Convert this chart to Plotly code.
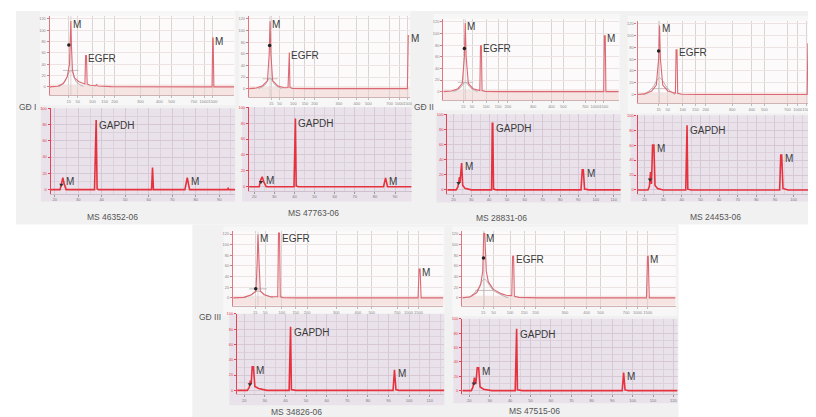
import plotly.graph_objects as go

W, H = 816, 417

# ---------------- data ----------------
SAMPLES = ["MS 46352-06", "MS 47763-06", "MS 28831-06", "MS 24453-06", "MS 34826-06", "MS 47515-06"]
STAGES = ["GĐ I", "GĐ II", "GĐ III"]

# ladder (bp labels) at migration time (s) for the EGFR electropherograms
LADDER_BP = ["15", "50", "100", "150", "200", "300", "400", "500", "700", "1000", "1500"]
LADDER_S = [43, 47, 53.5, 59, 63.5, 75, 83.5, 89, 99, 103.5, 107.5]

GAPDH_TICKS = [20, 30, 40, 50, 60, 70, 80, 90, 100, 110, 120]

# EGFR traces (time s, FU)
EGFR_X_1 = [34.5, 38.0, 40.5, 42.3, 43.3, 43.6, 43.9, 44.2, 44.6, 45.5, 47.5, 50.2, 50.5, 50.9, 51.2, 52.5, 55.0, 55.4, 56.0, 62.0, 75.0, 107.1, 107.4, 107.6, 107.9, 117.0]
EGFR_Y_1 = [0, 1, 6, 18, 40, 75, 116, 70, 30, 16, 9, 5, 55, 55, 5, 3, 2, 4, 1.5, 0.5, 0, 0, 86, 86, 0, 0]
EGFR_X_2 = [32.6, 36.0, 39.0, 41.3, 42.1, 42.5, 42.9, 43.7, 46.0, 49.0, 51.0, 51.3, 51.6, 51.9, 53.0, 60.0, 107.4, 107.8, 108.4]
EGFR_Y_2 = [0, 1, 5, 14, 60, 116, 60, 14, 5, 1.5, 2, 62, 62, 2, 0.5, 0, 0, 91, 91]
EGFR_X_3 = [33.85, 37.5, 40.5, 42.5, 43.5, 43.9, 44.3, 45.3, 47.5, 50.6, 50.9, 51.3, 51.6, 53.0, 60.0, 107.5, 107.8, 108.2, 108.5, 114.4]
EGFR_Y_3 = [0, 1, 5, 14, 60, 118, 60, 14, 5, 2, 79, 79, 2, 0.5, 0, 0, 96, 96, 0, 0]
EGFR_X_4 = [33.9, 37.0, 40.0, 42.0, 43.0, 43.4, 43.8, 44.8, 47.0, 50.3, 50.6, 51.0, 51.3, 53.0, 60.0, 107.6, 107.9, 108.2, 108.5, 113.6]
EGFR_Y_4 = [0, 1, 6, 16, 60, 117, 60, 16, 6, 2, 76, 76, 2, 0.5, 0, 0, 86, 86, 0, 0]
EGFR_X_5 = [34.3, 38.5, 41.5, 43.3, 43.8, 44.1, 44.5, 45.0, 46.5, 49.0, 51.9, 52.2, 52.6, 52.9, 54.0, 60.0, 107.3, 107.7, 108.1, 108.5, 117.3]
EGFR_Y_5 = [0, 1, 6, 13, 70, 119, 70, 13, 6, 2, 2, 122, 122, 2, 0.5, 0, 0, 54, 54, 0, 0]
EGFR_X_6 = [34.8, 38.0, 40.5, 42.0, 42.8, 43.2, 43.6, 44.2, 45.0, 47.0, 50.0, 52.0, 54.2, 54.5, 54.9, 55.2, 57.0, 65.0, 107.0, 107.4, 107.7, 108.1, 118.4]
EGFR_Y_6 = [0, 2, 10, 25, 50, 121, 121, 50, 30, 16, 8, 5, 4, 78, 78, 3, 1, 0, 0, 78, 78, 0, 0]

# grey overlay hump under the lower marker
HUMP_X = [[38.5, 41.0, 43.9, 46.5, 49.5], [37.0, 40.0, 42.5, 45.0, 48.0], [38.5, 41.5, 43.9, 46.5, 49.5],
          [36.5, 40.0, 43.4, 47.0, 50.0], [38.5, 41.5, 44.1, 47.0, 50.0], [37.2, 40.5, 43.4, 47.0, 52.8]]
HUMP_Y = [[0, 8, 29, 8, 1], [0, 6, 18, 6, 0], [0, 6, 16, 6, 0],
          [0, 10, 28, 10, 0], [0, 6, 13, 6, 0], [0, 14, 35, 14, 0]]
CROSS_Y = [29, 17, 16, 10, 17, 14]
DOT_X = [43.0, 42.3, 43.5, 43.0, 43.2, 43.1]
DOT_Y = [74, 74, 74, 74, 17, 75]

# EGFR label anchors: lower M, EGFR, upper M (time s, FU)
EGFR_LAB_X = [(43.9, 50.9, 107.5), (42.5, 51.6, 108.0), (43.9, 51.3, 108.0), (43.4, 51.0, 107.7), (44.1, 52.6, 107.9), (43.4, 54.9, 107.5)]
EGFR_LAB_Y = [(116, 55, 86), (116, 62, 91), (118, 79, 96), (117, 76, 86), (119, 122, 54), (121, 78, 78)]

# GAPDH traces (time s, FU)
GAPDH_X_1 = [18.3, 22.2, 22.9, 23.4, 24.0, 24.8, 36.9, 37.3, 37.6, 38.0, 38.6, 61.2, 61.6, 62.0, 75.4, 76.4, 77.4, 93.5, 93.8, 94.1, 96.8]
GAPDH_Y_1 = [0, 0, 8, 14.6, 7, 0, 0, 85.5, 85.5, 1, 0, 0, 27, 0, 0, 14.6, 0, 0, 1.5, 0, 0]
GAPDH_X_2 = [17.5, 22.5, 23.2, 24.0, 24.8, 26.0, 39.8, 40.2, 40.5, 40.9, 42, 84.3, 85.3, 86.3, 98.2]
GAPDH_Y_2 = [0, 0, 8, 12.5, 6, 0, 0, 86, 86, 1, 0, 0, 11, 0, 0]
GAPDH_X_3 = [16.6, 21.5, 22.5, 23.0, 23.4, 23.7, 24.2, 24.6, 25.2, 26.5, 30, 41.4, 41.8, 42.1, 42.5, 44, 91.6, 92.3, 92.9, 93.6, 96, 113.9]
GAPDH_Y_3 = [0, 0, 4, 12, 17, 10, 35.5, 35.5, 6, 2, 0, 0, 88, 88, 1, 0, 0, 26.5, 26.5, 1, 0, 0]
GAPDH_X_4 = [16.3, 21.8, 22.6, 23.2, 23.7, 24.3, 25.0, 25.6, 27, 30, 42.1, 42.5, 42.8, 43.2, 45, 92.5, 93.1, 93.6, 94.3, 97, 114.7]
GAPDH_Y_4 = [0, 0, 5, 24, 8, 60, 60, 6, 2, 0, 0, 86.6, 86.6, 1, 0, 0, 46.8, 46.8, 2, 0, 0]
GAPDH_X_5 = [16.6, 21.5, 22.5, 23.0, 23.4, 23.9, 24.5, 25.2, 27, 31, 41.8, 42.2, 42.5, 42.9, 45, 92.2, 92.9, 93.6, 95, 117.1]
GAPDH_Y_5 = [0, 0, 4, 12.8, 8, 30.7, 30.7, 5, 2.5, 0, 0, 83, 83, 1, 0, 0, 26.9, 1, 0, 0]
GAPDH_X_6 = [16.6, 21.0, 21.8, 22.5, 23.2, 23.9, 24.6, 25.3, 27, 31, 42.5, 42.9, 43.2, 43.6, 46, 94.9, 95.6, 96.3, 98, 122]
GAPDH_Y_6 = [0, 0, 5, 18, 9, 31.8, 31.8, 5, 2, 0, 0, 86, 86, 1, 0, 0, 25, 1, 0, 0]

# GAPDH label anchors: lower M, GAPDH, upper M
GAPDH_LAB_X = [(23.6, 37.6, 76.6), (24.2, 40.5, 85.5), (24.6, 42.1, 93.1), (25.0, 42.8, 93.6), (24.5, 42.5, 93.0), (24.6, 43.2, 95.8)]
GAPDH_LAB_Y = [(14.6, 85.5, 14.6), (12.5, 86, 11), (35.5, 88, 26.5), (60, 86.6, 46.8), (30.7, 83, 26.9), (31.8, 86, 25)]
SMALL_X = [22.8, 23.4, 22.9, 22.9, 22.8, 22.3]
SMALL_Y = [6, 6, 9, 14, 8, 10]

EGFR_X = [EGFR_X_1, EGFR_X_2, EGFR_X_3, EGFR_X_4, EGFR_X_5, EGFR_X_6]
EGFR_Y = [EGFR_Y_1, EGFR_Y_2, EGFR_Y_3, EGFR_Y_4, EGFR_Y_5, EGFR_Y_6]
GAPDH_X = [GAPDH_X_1, GAPDH_X_2, GAPDH_X_3, GAPDH_X_4, GAPDH_X_5, GAPDH_X_6]
GAPDH_Y = [GAPDH_Y_1, GAPDH_Y_2, GAPDH_Y_3, GAPDH_Y_4, GAPDH_Y_5, GAPDH_Y_6]

# ---------------- layout (pixels) ----------------
EGFR_BOX = [(42, 227, 5, 85), (242, 403, 5, 87), (437, 613, 8, 90), (632, 816, 10, 93), (226, 437, 222, 297), (456, 670, 222, 297)]
EGFR_RANGE = [(34.5, 117.0), (32.6, 108.4), (33.85, 114.4), (33.9, 113.6), (34.3, 117.3), (34.8, 118.4)]
GAPDH_BOX = [(43, 228, 98, 184), (242, 405, 97, 181), (441, 615, 104, 184), (632, 816, 105, 184), (230, 438, 305, 386), (456, 672, 310, 386)]
GAPDH_OUTER = [(33, 228, 98, 192), (235, 405, 97, 192), (430, 615, 104, 193), (625, 816, 105, 192), (222, 438, 305, 397), (447, 672, 310, 395)]
GAPDH_RANGE = [(18.3, 96.8), (17.5, 98.2), (16.6, 113.9), (16.3, 114.7), (16.6, 117.1), (16.6, 122.0)]
SAMPLE_POS = [(105, 207), (307, 203), (495, 208), (710, 207), (290, 404), (528, 403)]
STAGE_POS = [(20, 97), (418, 97), (203, 308)]

FONT = "Liberation Sans, Arial"
RED_E = "#dc6874"
RED_G = "#e6323f"
TXT = "#3a3a3a"

fig = go.Figure()
layout = dict(width=W, height=H, margin=dict(l=0, r=0, t=0, b=0), showlegend=False,
              paper_bgcolor="white", plot_bgcolor="rgba(0,0,0,0)", font=dict(family=FONT, color=TXT))
shapes = [
    dict(type="rect", xref="paper", yref="paper", x0=8 / W, x1=1, y0=1 - 215 / H, y1=1,
         fillcolor="#f1f1f1", line_width=0, layer="below"),
    dict(type="rect", xref="paper", yref="paper", x0=185 / W, x1=673 / W, y0=0, y1=1 - 215 / H,
         fillcolor="#f1f1f1", line_width=0, layer="below"),
]
annotations = []


def px2x(p):
    return p / W


def px2y(p):
    return 1 - p / H


def ax(letter, n):
    return letter if n == 1 else f"{letter}{n}"


for i in range(6):
    ne, ng = 2 * i + 1, 2 * i + 2
    xe, ye = ax("x", ne), ax("y", ne)
    xg, yg = ax("x", ng), ax("y", ng)
    l, r, t, b = EGFR_BOX[i]
    # EGFR outer box and plot background
    shapes.append(dict(type="rect", xref="paper", yref="paper", x0=px2x(l - 10), x1=px2x(min(r + 1, W)),
                       y0=px2y(b + 10), y1=px2y(max(t - 5, 0)), fillcolor="#f8f7f7", line_width=0, layer="below"))
    shapes.append(dict(type="rect", xref="paper", yref="paper", x0=px2x(l), x1=px2x(r), y0=px2y(b), y1=px2y(t),
                       fillcolor="#fcfafa", line_width=0, layer="below"))
    shapes.append(dict(type="rect", xref=f"{xe} domain", yref=ye, x0=0, x1=1, y0=-15, y1=4,
                       fillcolor="#f5e4e2", line_width=0, layer="below"))
    layout[f"xaxis{ne}"] = dict(domain=[px2x(l), px2x(r)], range=list(EGFR_RANGE[i]), anchor=ye,
                                tickvals=LADDER_S, ticktext=LADDER_BP, tickfont=dict(size=4, color="#888"),
                                showline=True, linecolor="#cfb2b2", ticks="outside", ticklen=2, tickcolor="#bbb",
                                showgrid=True, gridcolor="#dcd3d3", gridwidth=0.6, zeroline=False, tickangle=0)
    layout[f"yaxis{ne}"] = dict(domain=[px2y(b), px2y(t)], range=[-15, 125], anchor=xe, tick0=0, dtick=20,
                                tickfont=dict(size=4, color="#888"), showline=True, linecolor="#e07884", linewidth=1.4,
                                ticks="outside", ticklen=2, tickcolor="#e07884",
                                showgrid=True, gridcolor="#ece3e3", gridwidth=0.6, zeroline=False)
    # grey hump + crosshair
    fig.add_trace(go.Scatter(x=HUMP_X[i], y=HUMP_Y[i], xaxis=xe, yaxis=ye, mode="lines",
                             line=dict(color="#aaa2a2", width=0.8, shape="spline"), hoverinfo="skip"))
    m = HUMP_X[i][2]
    fig.add_trace(go.Scatter(x=[m - 3.5, m + 3.5], y=[CROSS_Y[i], CROSS_Y[i]], xaxis=xe, yaxis=ye, mode="lines",
                             line=dict(color="#b0a8a8", width=0.7), hoverinfo="skip"))
    fig.add_trace(go.Scatter(x=[m, m], y=[-15, 125], xaxis=xe, yaxis=ye, mode="lines",
                             line=dict(color="#c8bcbc", width=0.6), hoverinfo="skip"))
    fig.add_trace(go.Scatter(x=EGFR_X[i], y=EGFR_Y[i], xaxis=xe, yaxis=ye, mode="lines",
                             line=dict(color=RED_E, width=1.1), hoverinfo="skip"))
    fig.add_trace(go.Scatter(x=[DOT_X[i]], y=[DOT_Y[i]], xaxis=xe, yaxis=ye, mode="markers",
                             marker=dict(color="#222", size=3.5), hoverinfo="skip"))
    lx, ly = EGFR_LAB_X[i], EGFR_LAB_Y[i]
    for txt, axx, ayy in (("M", lx[0], ly[0]), ("EGFR", lx[1], ly[1]), ("M", lx[2], ly[2])):
        annotations.append(dict(x=axx, y=min(ayy, 118), xref=xe, yref=ye, text=txt, showarrow=False,
                                xanchor="left", yanchor="middle", xshift=0, yshift=-3,
                                font=dict(size=10, color=TXT, family=FONT)))

    # GAPDH panel
    l, r, t, b = GAPDH_BOX[i]
    ol, orr, ot, ob = GAPDH_OUTER[i]
    shapes.append(dict(type="rect", xref="paper", yref="paper", x0=px2x(ol), x1=px2x(orr), y0=px2y(ob), y1=px2y(ot),
                       fillcolor="#e9e2ea", line_width=0, layer="below"))
    layout[f"xaxis{ng}"] = dict(domain=[px2x(l), px2x(r)], range=list(GAPDH_RANGE[i]), anchor=yg,
                                tickvals=GAPDH_TICKS, tickfont=dict(size=4, color="#777"),
                                showline=True, linecolor="#cdbfcc", ticks="outside", ticklen=2, tickcolor="#999",
                                showgrid=True, gridcolor="#d6c9d5", gridwidth=0.6, zeroline=False,
                                minor=dict(dtick=5, tick0=0, showgrid=True, gridcolor="#ddd2dc", gridwidth=0.5))
    layout[f"yaxis{ng}"] = dict(domain=[px2y(b), px2y(t)], range=[-5, 100], anchor=xg, tick0=0, dtick=20,
                                tickfont=dict(size=4, color="#e04050"), showline=True, linecolor="#e24656", linewidth=1.4,
                                ticks="outside", ticklen=2, tickcolor="#e24656",
                                showgrid=True, gridcolor="#d6c9d5", gridwidth=0.6, zeroline=False,
                                minor=dict(dtick=10, tick0=0, showgrid=True, gridcolor="#ddd2dc", gridwidth=0.5))
    fig.add_trace(go.Scatter(x=GAPDH_X[i], y=GAPDH_Y[i], xaxis=xg, yaxis=yg, mode="lines",
                             line=dict(color=RED_G, width=1.6), hoverinfo="skip"))
    fig.add_trace(go.Scatter(x=[SMALL_X[i]], y=[SMALL_Y[i]], xaxis=xg, yaxis=yg, mode="markers",
                             marker=dict(color="#333", size=4, symbol="triangle-down"), hoverinfo="skip"))
    lx, ly = GAPDH_LAB_X[i], GAPDH_LAB_Y[i]
    for txt, axx, ayy, ys in (("M", lx[0], ly[0], 4), ("GAPDH", lx[1], ly[1], 2), ("M", lx[2], ly[2], 4)):
        annotations.append(dict(x=axx, y=ayy, xref=xg, yref=yg, text=txt, showarrow=False,
                                xanchor="left", yanchor="top", xshift=1, yshift=ys,
                                font=dict(size=10, color=TXT, family=FONT)))
    sx, sy = SAMPLE_POS[i]
    annotations.append(dict(x=px2x(sx), y=px2y(sy), xref="paper", yref="paper", text=SAMPLES[i], showarrow=False,
                            xanchor="center", yanchor="middle", font=dict(size=8.5, color="#555", family=FONT)))

for s, (sx, sy) in zip(STAGES, STAGE_POS):
    annotations.append(dict(x=px2x(sx), y=px2y(sy), xref="paper", yref="paper", text=s, showarrow=False,
                            xanchor="center", yanchor="middle", font=dict(size=8.5, color="#555", family=FONT)))

layout["shapes"] = shapes
layout["annotations"] = annotations
fig.update_layout(**layout)
fig.write_html("out.html")
